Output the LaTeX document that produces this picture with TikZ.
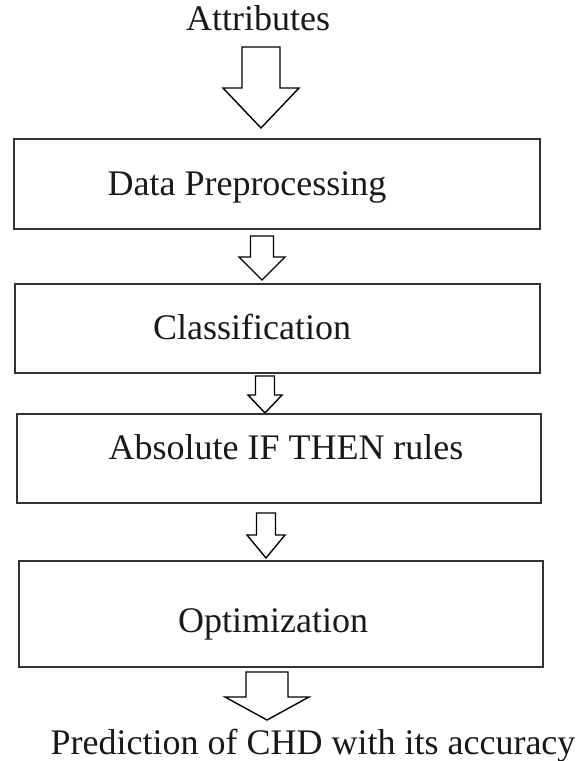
\documentclass[tikz,border=0pt]{standalone}
\usepackage{fontspec}
\setmainfont{Liberation Serif}
\newcommand{\blockarrow}[6]{%
  % #1 centre x, #2 top, #3 half shaft, #4 head base, #5 half head, #6 tip
  \draw[arrowline] ({#1-#3},#2) -- ({#1+#3},#2) -- ({#1+#3},#4) -- ({#1+#5},#4)
    -- (#1,#6) -- ({#1-#5},#4) -- ({#1-#3},#4) -- cycle;}
\begin{document}
\begin{tikzpicture}[x=1pt, y=-1pt,
  every node/.style={font=\fontsize{36}{40}\selectfont, text=black!90, inner sep=0pt, anchor=base},
  boxline/.style={line width=2pt, draw=black!80},
  arrowline/.style={line width=1.4pt, draw=black, fill=white, line join=miter}]
  \useasboundingbox (0,0) rectangle (586,761);

  % input
  \node (attr) at (258,30) {Attributes};
  \blockarrow{261}{47}{19}{88}{38}{128}

  % stages
  \draw[boxline] (14,139) rectangle (540,229);
  \node (prep) at (247,195) {Data Preprocessing};
  \blockarrow{262}{236}{11.5}{257}{23}{280}

  \draw[boxline] (15,284) rectangle (540,373);
  \node (class) at (252,339) {Classification};
  \blockarrow{265}{376}{9.5}{395}{17}{413}

  \draw[boxline] (17,414) rectangle (541,503);
  \node (rules) at (286,459) {Absolute IF THEN rules};
  \blockarrow{266}{513}{9.5}{535}{19}{558}

  \draw[boxline] (19,561) rectangle (543,667);
  \node (optim) at (273,632) {Optimization};
  \blockarrow{267}{672}{21}{697}{42}{720}

  % output
  \node (pred) at (313,754) {Prediction of CHD with its accuracy};
\end{tikzpicture}
\end{document}
